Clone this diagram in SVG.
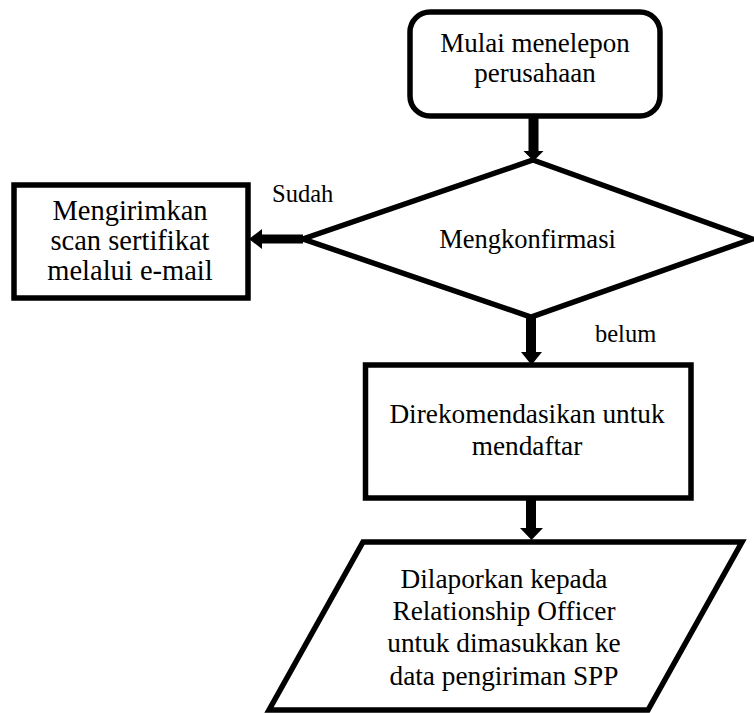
<svg xmlns="http://www.w3.org/2000/svg" width="754" height="713" viewBox="0 0 754 713">
<style>
.shape{fill:#fff;stroke:#000;stroke-width:5.5;stroke-linejoin:miter}
text{font-family:'Liberation Serif','Times New Roman','DejaVu Serif',serif;fill:#000}
.t{font-size:27.3px;text-anchor:middle}
.lbl{font-size:24.5px}
.arrow{fill:#000;stroke:none}
</style>
<rect x="0" y="0" width="754" height="713" fill="#fff"/>
<g id="start">
<rect class="shape" x="410" y="12" width="250" height="104" rx="20" ry="20"/>
<text class="t" style="font-size:27px" x="535" y="52">Mulai menelepon</text>
<text class="t" style="font-size:27px" x="535" y="82">perusahaan</text>
</g>
<g id="decision">
<polygon class="shape" points="533,160 752,239 531,317 303,239"/>
<text class="t" style="font-size:26.5px" x="527.5" y="248">Mengkonfirmasi</text>
</g>
<g id="send">
<rect class="shape" x="14" y="185" width="234" height="113"/>
<text class="t" style="font-size:28.5px" x="130" y="220">Mengirimkan</text>
<text class="t" style="font-size:28.5px" x="130" y="250">scan  sertifikat</text>
<text class="t" style="font-size:28.5px" x="130" y="280">melalui e-mail</text>
</g>
<g id="recommend">
<rect class="shape" x="365.5" y="365" width="325.5" height="133"/>
<text class="t" x="527" y="423">Direkomendasikan untuk</text>
<text class="t" x="527" y="455">mendaftar</text>
</g>
<g id="report">
<polygon class="shape" points="363,542 742,542 648,710 269,710"/>
<text class="t" x="504" y="588">Dilaporkan kepada</text>
<text class="t" x="504" y="620">Relationship Officer</text>
<text class="t" x="504" y="652">untuk dimasukkan ke</text>
<text class="t" x="504" y="685">data pengiriman SPP</text>
</g>
<g id="connectors">
<polygon class="arrow" points="528.5,118 538.5,118 538.5,151 543.5,151 533.5,161 523.5,151 528.5,151"/>
<polygon class="arrow" points="526,318 536,318 536,352 542,352 531.5,365 521,352 526,352"/>
<polygon class="arrow" points="526,500 536,500 536,528 543,528 531.5,540 520,528 526,528"/>
<polygon class="arrow" points="303,234.5 303,243.5 262,243.5 262,249 249,239 262,229 262,234.5"/>
<text class="lbl" x="272" y="202">Sudah</text>
<text class="lbl" x="595" y="342">belum</text>
</g>
</svg>
